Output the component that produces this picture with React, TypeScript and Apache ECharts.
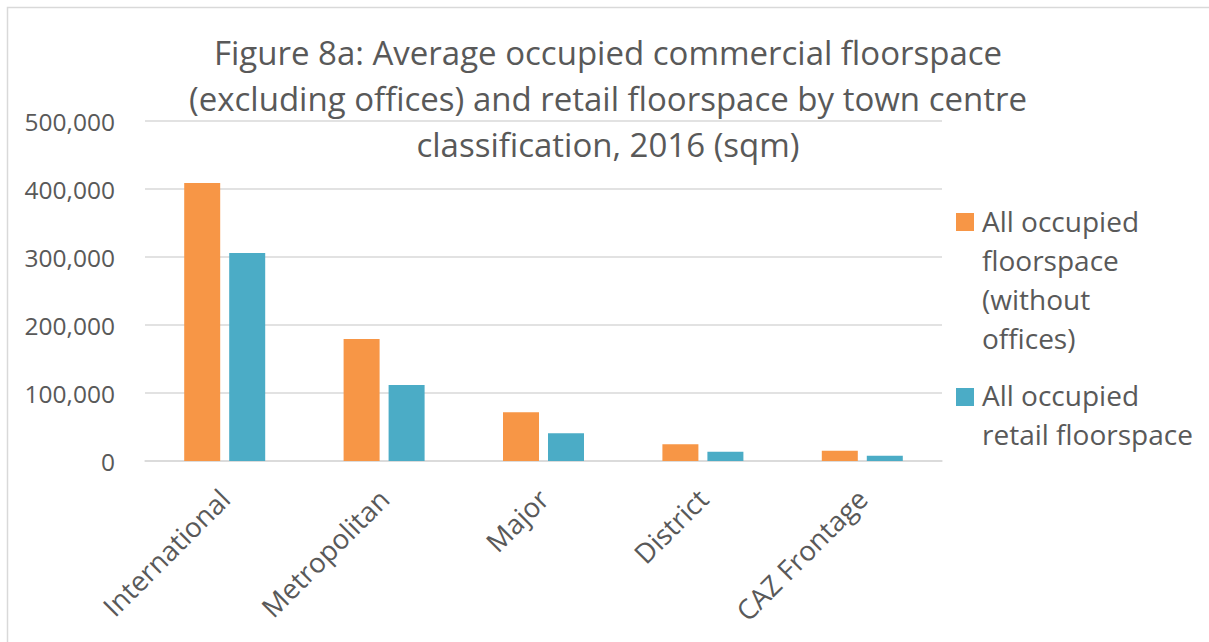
import React, { useEffect, useRef } from "react";
import * as echarts from "echarts";

const categories = ["International", "Metropolitan", "Major", "District", "CAZ Frontage"];
const seriesNames = [
  "All occupied floorspace (without offices)",
  "All occupied retail floorspace",
];
const legendLabels = [
  "All occupied\nfloorspace\n(without\noffices)",
  "All occupied\nretail floorspace",
];
const allFloorspace = [408800, 179400, 71600, 24500, 15200];
const retailFloorspace = [306000, 111800, 40700, 13700, 7800];
const yTicks = { min: 0, max: 500000, interval: 100000 };
const colors = ["#F79646", "#4BACC6"];
const titleText =
  "Figure 8a: Average occupied commercial floorspace\n(excluding offices) and retail floorspace by town centre\nclassification, 2016 (sqm)";

const FONT = "'Open Sans', sans-serif";
const TXT = "#595959";

export default function App() {
  const ref = useRef<HTMLDivElement>(null);
  useEffect(() => {
    if (!ref.current) return;
    const chart = echarts.init(ref.current, null, { renderer: "svg" });
    chart.setOption({
      animation: false,
      backgroundColor: "#ffffff",
      textStyle: { fontFamily: FONT },
      grid: { left: 145, right: 267, top: 121, bottom: 181, containLabel: false },
      xAxis: {
        type: "category",
        data: categories,
        axisLine: { show: true, lineStyle: { color: "#D9D9D9", width: 1.5 } },
        axisTick: { show: false },
        axisLabel: {
          rotate: 45,
          interval: 0,
          margin: 33,
          color: TXT,
          fontSize: 27.5,
          fontFamily: FONT,
        },
      },
      yAxis: {
        type: "value",
        min: yTicks.min,
        max: yTicks.max,
        interval: yTicks.interval,
        axisLine: { show: false },
        axisTick: { show: false },
        splitLine: { lineStyle: { color: "#D9D9D9", width: 1.5 } },
        axisLabel: {
          color: TXT,
          fontSize: 24.5,
          fontFamily: FONT,
          margin: 30,
          formatter: (v: number) => v.toLocaleString("en-US"),
        },
      },
      series: [
        {
          name: seriesNames[0],
          type: "bar",
          data: allFloorspace,
          barWidth: 36,
          barGap: "25%",
          itemStyle: { color: colors[0] },
        },
        {
          name: seriesNames[1],
          type: "bar",
          data: retailFloorspace,
          barWidth: 36,
          barGap: "25%",
          itemStyle: { color: colors[1] },
        },
      ],
      graphic: [
        {
          type: "rect",
          silent: true,
          shape: { x: 7.5, y: 7.5, width: 1220, height: 660 },
          style: { fill: "none", stroke: "#D9D9D9", lineWidth: 1.5 },
          z: -10,
        },
        {
          type: "text",
          x: 608,
          y: 29,
          z: 100,
          style: {
            text: titleText,
            fill: TXT,
            font: `33px ${FONT}`,
            textAlign: "center",
            lineHeight: 46,
          },
        },
        {
          type: "rect",
          shape: { x: 956, y: 213, width: 18, height: 18 },
          style: { fill: colors[0] },
        },
        {
          type: "text",
          x: 982,
          y: 201,
          style: {
            text: legendLabels[0],
            fill: TXT,
            font: `28px ${FONT}`,
            lineHeight: 39,
          },
        },
        {
          type: "rect",
          shape: { x: 956, y: 388, width: 18, height: 18 },
          style: { fill: colors[1] },
        },
        {
          type: "text",
          x: 982,
          y: 375,
          style: {
            text: legendLabels[1],
            fill: TXT,
            font: `28px ${FONT}`,
            lineHeight: 39,
          },
        },
      ],
    });
    return () => chart.dispose();
  }, []);
  return (
    <div
      ref={ref}
      style={{ position: "fixed", left: 0, top: 0, width: 1209, height: 642 }}
    />
  );
}
